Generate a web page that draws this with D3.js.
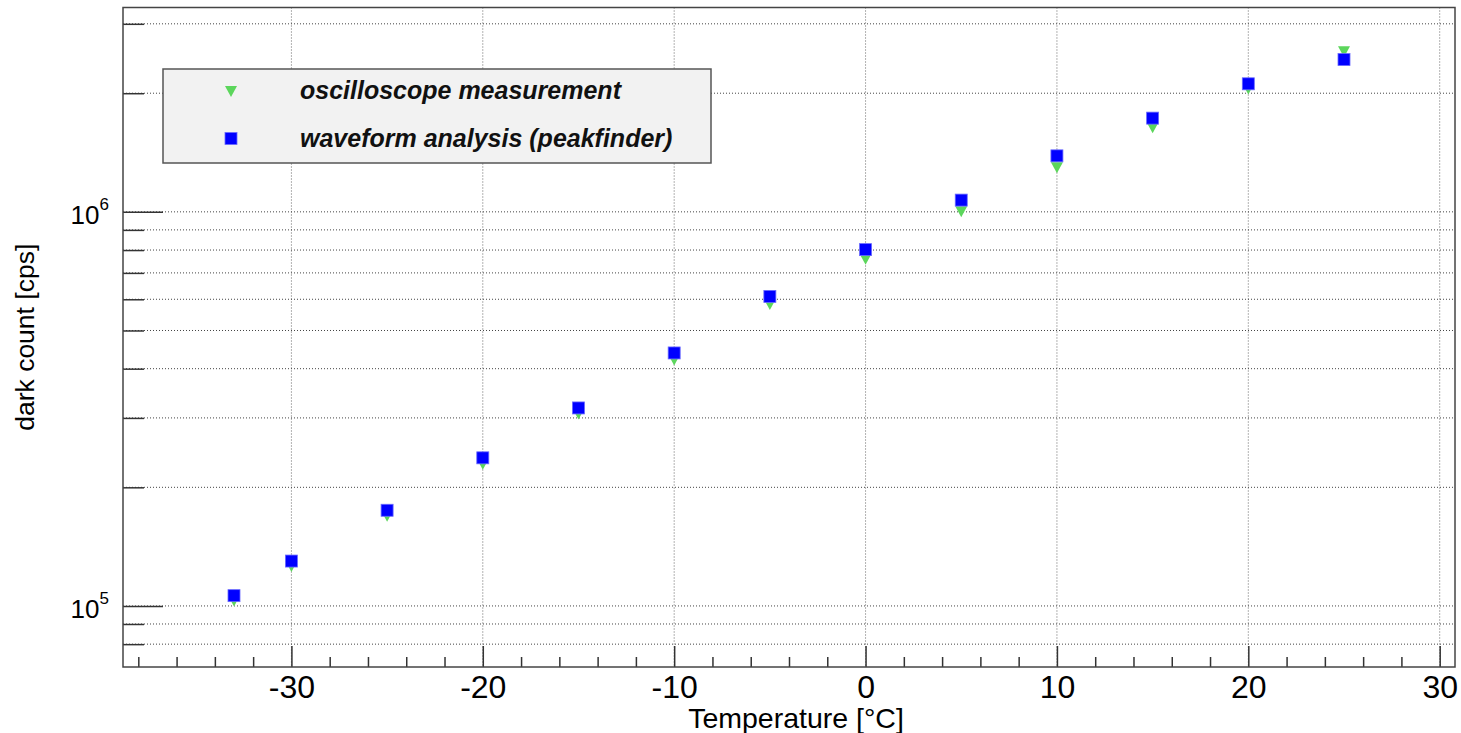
<!DOCTYPE html>
<html>
<head>
<meta charset="utf-8">
<script src="https://cdn.jsdelivr.net/npm/d3@7"></script>
<style>
  html, body { margin: 0; padding: 0; background: #ffffff; }
  svg { display: block; font-family: "Liberation Sans", Arial, sans-serif; }
</style>
</head>
<body>
<svg id="chart" width="1461" height="733"></svg>
<script>
// ---- data ----
const temperatures = [-33, -30, -25, -20, -15, -10, -5, 0, 5, 10, 15, 20, 25];
const oscilloscope = [1.03e5, 1.26e5, 1.69e5, 2.29e5, 3.07e5, 4.21e5, 5.82e5, 7.58e5, 1.00e6, 1.294e6, 1.635e6, 2.05e6, 2.55e6];
const peakfinder   = [1.062e5, 1.30e5, 1.749e5, 2.376e5, 3.18e5, 4.385e5, 6.10e5, 8.02e5, 1.071e6, 1.387e6, 1.729e6, 2.113e6, 2.435e6];
const seriesNames = ["oscilloscope measurement", "waveform analysis (peakfinder)"];
const xMajorTicks = [-30, -20, -10, 0, 10, 20, 30];
const xMinorTicks = [-38, -36, -34, -32, -28, -26, -24, -22, -18, -16, -14, -12, -8, -6, -4, -2, 2, 4, 6, 8, 12, 14, 16, 18, 22, 24, 26, 28];
const yMajorTicks = [1e5, 1e6];
const yMinorTicks = [8e4, 9e4, 2e5, 3e5, 4e5, 5e5, 6e5, 7e5, 8e5, 9e5, 2e6, 3e6];
const yMajorExp = [5, 6];
const xTitle = "Temperature [°C]";
const yTitle = "dark count [cps]";

// ---- layout ----
const L = 123, R = 1455, T = 7.5, B = 667;
const svg = d3.select("#chart");
svg.append("rect").attr("width", 1461).attr("height", 733).attr("fill", "#ffffff");

const x = d3.scaleLinear().domain([-38.8, 30.8]).range([L, R]);
const y = d3.scaleLog().domain([7.0e4, 3.3e6]).range([B, T]);

// grid lines
const grid = svg.append("g");
grid.selectAll("line.gx").data(xMajorTicks).join("line")
  .attr("x1", d => x(d)).attr("x2", d => x(d))
  .attr("y1", T).attr("y2", B)
  .attr("stroke", "#666").attr("stroke-width", 1).attr("stroke-dasharray", "1,2");
grid.selectAll("line.gy").data(yMajorTicks.concat(yMinorTicks)).join("line")
  .attr("x1", L).attr("x2", R)
  .attr("y1", d => y(d)).attr("y2", d => y(d))
  .attr("stroke", "#444").attr("stroke-width", 1).attr("stroke-dasharray", "1,2");

// x axis (ticks point inward)
const xAxisMajor = svg.append("g").attr("transform", `translate(0,${B})`)
  .call(d3.axisBottom(x).tickValues(xMajorTicks).tickSizeInner(-21).tickSizeOuter(0).tickFormat(d3.format("d")));
xAxisMajor.select(".domain").remove();
xAxisMajor.selectAll(".tick line").attr("stroke", "#333").attr("stroke-width", 1.5);
xAxisMajor.selectAll(".tick text")
  .attr("y", 31).attr("dy", 0)
  .attr("font-size", 32).attr("fill", "#000")
  .attr("font-family", "Liberation Sans, Arial, sans-serif")
  .text(d => d < 0 ? "-" + Math.abs(d) : String(d));

const xAxisMinor = svg.append("g").attr("transform", `translate(0,${B})`)
  .call(d3.axisBottom(x).tickValues(xMinorTicks).tickSizeInner(-10).tickSizeOuter(0).tickFormat(""));
xAxisMinor.select(".domain").remove();
xAxisMinor.selectAll(".tick line").attr("stroke", "#333").attr("stroke-width", 1.5);

// y axis (ticks point inward)
const yAxisMajor = svg.append("g").attr("transform", `translate(${L},0)`)
  .call(d3.axisLeft(y).tickValues(yMajorTicks).tickSizeInner(-40).tickSizeOuter(0).tickFormat(""));
yAxisMajor.select(".domain").remove();
yAxisMajor.selectAll(".tick line").attr("stroke", "#333").attr("stroke-width", 1.5);
yAxisMajor.selectAll(".tick text").each(function(d, i) {
  const t = d3.select(this);
  t.attr("x", -14).attr("dy", 0).attr("y", 12)
   .attr("text-anchor", "end").attr("fill", "#000")
   .attr("font-size", 26)
   .attr("font-family", "Liberation Sans, Arial, sans-serif");
  t.text("10");
  t.append("tspan").attr("font-size", 17).attr("dy", -14).text(yMajorExp[i]);
});

const yAxisMinor = svg.append("g").attr("transform", `translate(${L},0)`)
  .call(d3.axisLeft(y).tickValues(yMinorTicks).tickSizeInner(-21).tickSizeOuter(0).tickFormat(""));
yAxisMinor.select(".domain").remove();
yAxisMinor.selectAll(".tick line").attr("stroke", "#333").attr("stroke-width", 1.5);

// frame
svg.append("rect").attr("x", L).attr("y", T).attr("width", R - L).attr("height", B - T)
  .attr("fill", "none").attr("stroke", "#444").attr("stroke-width", 1.5);

// axis titles
svg.append("text").attr("x", 796).attr("y", 728)
  .attr("text-anchor", "middle").attr("font-size", 28.5).attr("fill", "#000")
  .text(xTitle);
svg.append("text").attr("transform", `translate(34,${(T + B) / 2}) rotate(-90)`)
  .attr("text-anchor", "middle").attr("font-size", 26.5).attr("fill", "#000")
  .text(yTitle);

// markers
const green = "#5cd65c", blue = "#0000ff";
const triPath = (cx, cy) => `M${cx - 6},${cy - 5.5}L${cx + 6},${cy - 5.5}L${cx},${cy + 5.5}Z`;

svg.append("g").selectAll("path").data(temperatures.map((t, i) => [t, oscilloscope[i]])).join("path")
  .attr("d", d => triPath(x(d[0]), y(d[1])))
  .attr("fill", green);

svg.append("g").selectAll("rect").data(temperatures.map((t, i) => [t, peakfinder[i]])).join("rect")
  .attr("x", d => x(d[0]) - 6).attr("y", d => y(d[1]) - 6)
  .attr("width", 12).attr("height", 12)
  .attr("fill", blue).attr("stroke", "#6a6aff").attr("stroke-width", 0.8);

// legend
const lg = svg.append("g");
lg.append("rect").attr("x", 163).attr("y", 69).attr("width", 548).attr("height", 94)
  .attr("fill", "#f2f2f2").attr("stroke", "#555").attr("stroke-width", 1.5);
lg.append("path").attr("d", triPath(231, 91.5)).attr("fill", green);
lg.append("rect").attr("x", 225).attr("y", 132.5).attr("width", 12).attr("height", 12)
  .attr("fill", blue).attr("stroke", "#6a6aff").attr("stroke-width", 0.8);
lg.selectAll("text").data(seriesNames).join("text")
  .attr("x", 300).attr("y", (d, i) => 99 + i * 47.5)
  .attr("font-size", 25).attr("font-weight", "bold").attr("font-style", "italic")
  .attr("fill", "#111")
  .text(d => d);
</script>
</body>
</html>
